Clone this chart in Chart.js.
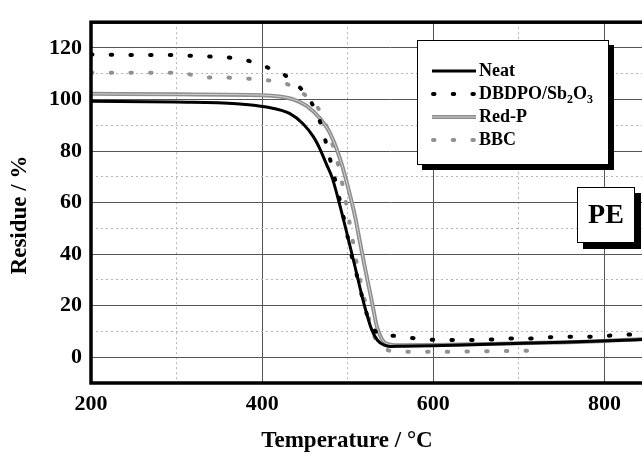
<!DOCTYPE html>
<html>
<head>
<meta charset="utf-8">
<script src="https://cdn.jsdelivr.net/npm/chart.js@4.4.0/dist/chart.umd.min.js"></script>
<style>
  html, body { margin: 0; padding: 0; background: #fff; overflow: hidden; }
  #wrap { position: absolute; left: 0; top: 0; width: 700px; height: 459px; }
</style>
</head>
<body>
<div id="wrap"><canvas id="c" width="700" height="459"></canvas></div>
<script>
// ---------- data ----------
const xTickLabels = [200, 400, 600, 800];
const yTickLabels = [0, 20, 40, 60, 80, 100, 120];

const neatTemp = [200, 300, 370, 405, 432, 448, 460, 468, 475, 482, 490, 498, 509, 518, 528, 535, 542, 550, 565, 600, 682, 752, 838, 900];
const neatRes  = [99.3, 99.0, 98.4, 97.1, 94.6, 90.5, 85.5, 80.5, 75.0, 69.5, 60.0, 49.5, 34.5, 22.0, 10.7, 6.5, 4.8, 4.2, 4.3, 4.5, 5.2, 5.8, 6.8, 7.6];

const dbdpoTemp = [200, 223, 246, 268, 291, 314, 337, 360, 383, 405, 429, 451, 462, 470, 477, 483, 490, 498, 503, 509, 518, 525, 530, 540, 553, 577, 600, 623, 646, 670, 693, 716, 739, 762, 785, 807, 830, 900];
const dbdpoRes  = [117.5, 117.4, 117.3, 117.3, 117.3, 117.0, 116.7, 116.3, 115.1, 112.6, 108.9, 102.0, 96.0, 89.0, 80.0, 72.0, 62.0, 50.0, 41.6, 34.0, 22.0, 14.0, 11.0, 8.4, 8.3, 7.4, 6.8, 6.7, 6.7, 6.9, 7.3, 7.3, 7.8, 7.9, 7.9, 8.4, 8.8, 9.5];

const redPTemp = [200, 300, 400, 420, 437, 452, 468, 480, 492, 503, 509, 513, 520, 528, 534, 540, 546, 560, 600, 700, 800, 840, 900];
const redPRes  = [102.2, 102.0, 101.7, 101.2, 100.0, 97.5, 92.5, 86.5, 76.0, 62.5, 54.0, 47.0, 35.0, 22.0, 12.0, 7.0, 5.2, 4.6, 4.7, 5.4, 6.3, 7.0, 7.8];

const bbcTemp = [200, 291, 314, 337, 360, 383, 405, 429, 451, 468, 480, 490, 498, 505, 512, 520, 528, 535, 542, 565, 611, 657, 703, 730];
const bbcRes  = [110.4, 110.4, 109.8, 108.5, 108.5, 108.1, 107.5, 106.0, 101.5, 95.2, 85.0, 73.0, 60.0, 47.0, 34.0, 22.0, 11.0, 5.5, 3.4, 2.1, 2.1, 2.3, 2.5, 2.8];

const seriesNames = ['Neat', 'DBDPO/Sb2O3', 'Red-P', 'BBC'];

// ---------- helpers ----------
const pts = (t, r) => t.map((v, i) => ({ x: v, y: r[i] }));
const SERIF = '"Liberation Serif", "Times New Roman", serif';
const DOT = [1.5, 18.2];

const overlay = {
  id: 'overlay',
  afterDatasetsDraw(chart) {
    const { ctx, chartArea: a } = chart;
    ctx.save();
    ctx.lineWidth = 3.5;
    ctx.strokeStyle = '#000';
    ctx.strokeRect(a.left, a.top, a.right - a.left, a.bottom - a.top);
    ctx.restore();
  },
  afterDraw(chart) {
    const ctx = chart.ctx;
    ctx.save();
    // ----- legend box -----
    ctx.fillStyle = '#000';
    ctx.fillRect(422, 45, 192, 125);
    ctx.fillStyle = '#fff';
    ctx.fillRect(417, 40, 192, 125);
    ctx.strokeStyle = '#000';
    ctx.lineWidth = 1;
    ctx.strokeRect(417.5, 40.5, 191, 124);

    const rows = [71, 94, 117, 140];
    const x0 = 432, x1 = 476;
    // Neat
    ctx.beginPath(); ctx.moveTo(x0, rows[0]); ctx.lineTo(x1, rows[0]);
    ctx.lineWidth = 3; ctx.strokeStyle = '#000'; ctx.setLineDash([]); ctx.stroke();
    // DBDPO
    ctx.beginPath(); ctx.moveTo(x0 + 1, rows[1]); ctx.lineTo(x1, rows[1]);
    ctx.lineWidth = 4; ctx.lineCap = 'round'; ctx.setLineDash(DOT); ctx.strokeStyle = '#000'; ctx.stroke();
    // Red-P
    ctx.setLineDash([]); ctx.lineCap = 'butt';
    ctx.beginPath(); ctx.moveTo(x0, rows[2]); ctx.lineTo(x1, rows[2]);
    ctx.lineWidth = 4; ctx.strokeStyle = '#8e8e8e'; ctx.stroke();
    ctx.beginPath(); ctx.moveTo(x0, rows[2]); ctx.lineTo(x1, rows[2]);
    ctx.lineWidth = 1; ctx.strokeStyle = '#cfcfcf'; ctx.stroke();
    // BBC
    ctx.beginPath(); ctx.moveTo(x0 + 1, rows[3]); ctx.lineTo(x1, rows[3]);
    ctx.lineWidth = 4; ctx.lineCap = 'round'; ctx.setLineDash(DOT); ctx.strokeStyle = '#919191'; ctx.stroke();
    ctx.setLineDash([]); ctx.lineCap = 'butt';

    ctx.fillStyle = '#000';
    ctx.textBaseline = 'middle';
    ctx.textAlign = 'left';
    const big = 'bold 18px ' + SERIF, small = 'bold 12px ' + SERIF;
    ctx.font = big;
    ctx.fillText(seriesNames[0], 479, rows[0]);
    // DBDPO/Sb2O3 with subscripts
    let tx = 479;
    ctx.font = big; ctx.fillText('DBDPO/Sb', tx, rows[1]); tx += ctx.measureText('DBDPO/Sb').width;
    ctx.font = small; ctx.fillText('2', tx, rows[1] + 6); tx += ctx.measureText('2').width;
    ctx.font = big; ctx.fillText('O', tx, rows[1]); tx += ctx.measureText('O').width;
    ctx.font = small; ctx.fillText('3', tx, rows[1] + 6);
    ctx.font = big;
    ctx.fillText(seriesNames[2], 479, rows[2]);
    ctx.fillText(seriesNames[3], 479, rows[3]);

    // ----- PE box -----
    ctx.fillStyle = '#000';
    ctx.fillRect(583, 193, 58, 56);
    ctx.fillStyle = '#fff';
    ctx.fillRect(577, 187, 58, 56);
    ctx.strokeStyle = '#000';
    ctx.lineWidth = 1;
    ctx.strokeRect(577.5, 187.5, 57, 55);
    ctx.fillStyle = '#000';
    ctx.font = 'bold 28px ' + SERIF;
    ctx.textAlign = 'center';
    ctx.fillText('PE', 606, 216);

    // ----- axis titles -----
    ctx.font = 'bold 23px ' + SERIF;
    ctx.textAlign = 'center';
    ctx.textBaseline = 'middle';
    ctx.fillText('Temperature / °C', 347, 441);
    ctx.translate(20, 215);
    ctx.rotate(-Math.PI / 2);
    ctx.fillText('Residue / %', 0, 0);
    ctx.restore();
  }
};

const gridColor = (major, skip) => (ctx) => {
  const v = ctx.tick ? ctx.tick.value : null;
  if (v === null || skip.includes(v)) return 'rgba(0,0,0,0)';
  return (v % major === 0) ? '#555555' : '#b4b4b4';
};
const gridDash = (major) => (ctx) => {
  const v = ctx.tick ? ctx.tick.value : null;
  if (v === null) return [];
  return (v % major === 0) ? [] : [2, 3];
};

new Chart(document.getElementById('c'), {
  type: 'line',
  data: {
    datasets: [
      { label: seriesNames[0], data: pts(neatTemp, neatRes), borderColor: '#000', borderWidth: 3, pointRadius: 0, cubicInterpolationMode: 'monotone', order: 1 },
      { label: seriesNames[1], data: pts(dbdpoTemp, dbdpoRes), borderColor: '#000', borderWidth: 4, borderDash: DOT, borderCapStyle: 'round', pointRadius: 0, cubicInterpolationMode: 'monotone', order: 0 },
      { label: seriesNames[2], data: pts(redPTemp, redPRes), borderColor: '#8e8e8e', borderWidth: 4, pointRadius: 0, cubicInterpolationMode: 'monotone', order: 3 },
      { label: seriesNames[2] + ' (inner)', data: pts(redPTemp, redPRes), borderColor: '#d2d2d2', borderWidth: 1, pointRadius: 0, cubicInterpolationMode: 'monotone', order: 2 },
      { label: seriesNames[3], data: pts(bbcTemp, bbcRes), borderColor: '#919191', borderWidth: 4, borderDash: DOT, borderCapStyle: 'round', pointRadius: 0, cubicInterpolationMode: 'monotone', order: 4 }
    ]
  },
  options: {
    responsive: false,
    animation: false,
    devicePixelRatio: 1,
    layout: { padding: { left: 0, top: 14, right: 10, bottom: 0 } },
    plugins: { legend: { display: false }, tooltip: { enabled: false } },
    scales: {
      x: {
        type: 'linear', min: 200, max: 900,
        afterFit: (s) => { s.height = 76; },
        ticks: {
          stepSize: 100, autoSkip: false, maxRotation: 0, padding: 8,
          color: '#000', font: { family: SERIF, size: 22, weight: 'bold' },
          callback: (v) => xTickLabels.includes(v) ? String(v) : ''
        },
        grid: { drawTicks: false, color: gridColor(200, [200, 900]), lineWidth: 1 },
        border: { display: false, dash: gridDash(200) }
      },
      y: {
        type: 'linear', min: -10, max: 130,
        afterFit: (s) => { s.width = 91; },
        ticks: {
          stepSize: 10, autoSkip: false, padding: 9,
          color: '#000', font: { family: SERIF, size: 22, weight: 'bold' },
          callback: (v) => yTickLabels.includes(v) ? String(v) : ''
        },
        grid: { drawTicks: false, color: gridColor(20, [-10, 130]), lineWidth: 1 },
        border: { display: false, dash: gridDash(20) }
      }
    }
  },
  plugins: [overlay]
});
</script>
</body>
</html>
